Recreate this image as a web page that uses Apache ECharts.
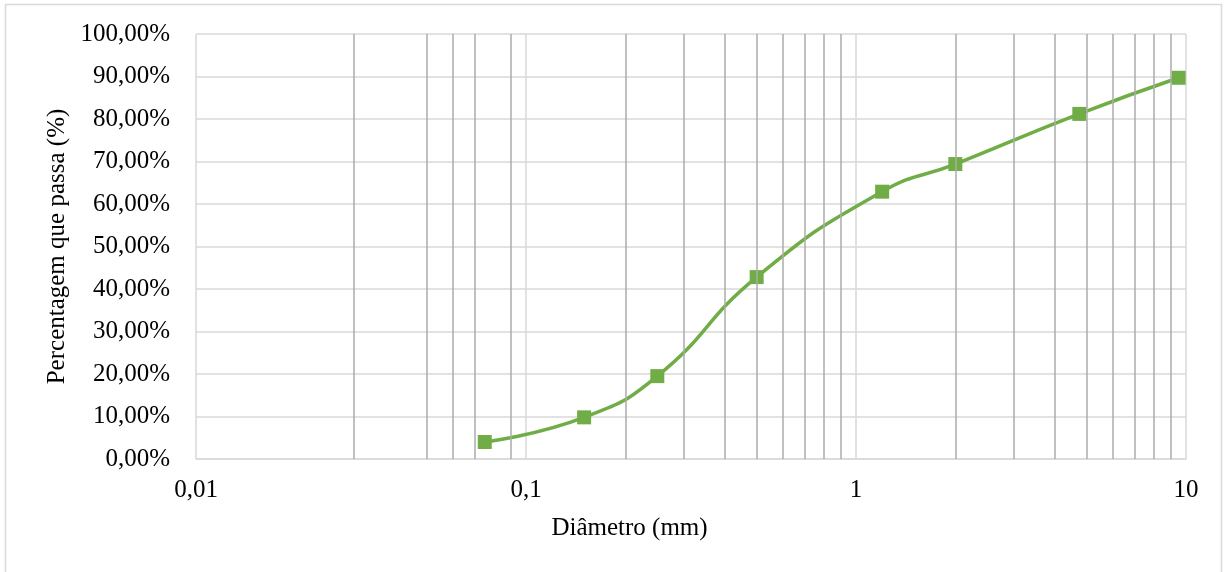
<!DOCTYPE html>
<html>
<head>
<meta charset="utf-8">
<script src="https://cdn.jsdelivr.net/npm/echarts@6/dist/echarts.min.js"></script>
<style>
html,body{margin:0;padding:0;background:#fff;}
#chart{width:1229px;height:572px;}
</style>
</head>
<body>
<div id="chart"></div>
<script>
// Data
const diameters = [0.075, 0.15, 0.25, 0.5, 1.2, 2.0, 4.75, 9.5];        // mm
const passing   = [4.0, 9.8, 19.5, 42.8, 62.9, 69.4, 81.2, 89.7];        // %
const minorGridValues = [0.03, 0.05, 0.06, 0.07, 0.09,
                         0.2, 0.3, 0.4, 0.5, 0.6, 0.7, 0.8, 0.9,
                         2, 3, 4, 5, 6, 7, 8, 9];
const xAxisTitle = 'Diâmetro (mm)';
const yAxisTitle = 'Percentagem que passa (%)';

const FONT = '"Liberation Serif", "Times New Roman", serif';
const seriesData = diameters.map((d, i) => [d, passing[i]]);

const chart = echarts.init(document.getElementById('chart'), null, {renderer: 'canvas'});
chart.setOption({
  animation: false,
  backgroundColor: '#fff',
  graphic: [{
    type: 'rect', silent: true, z: -10,
    shape: {x: 5.5, y: 4.5, width: 1216, height: 600},
    style: {fill: 'none', stroke: '#d9d9d9', lineWidth: 1.5}
  }],
  grid: {left: 196, right: 43, top: 34, bottom: 113, containLabel: false},
  xAxis: {
    type: 'log', logBase: 10, min: 0.01, max: 10,
    name: xAxisTitle, nameLocation: 'middle', nameGap: 57,
    nameTextStyle: {fontFamily: FONT, fontSize: 25, color: '#000', padding: [0, 123, 0, 0]},
    axisLine: {show: true, lineStyle: {color: '#d9d9d9', width: 1.5}},
    axisTick: {show: false},
    axisLabel: {
      fontFamily: FONT, fontSize: 25, color: '#000', margin: 19,
      formatter: v => String(Number(v.toPrecision(6))).replace('.', ',')
    },
    splitLine: {show: true, lineStyle: {color: '#d9d9d9', width: 1.5}},
    minorSplitLine: {show: false}
  },
  yAxis: {
    type: 'value', min: 0, max: 100, interval: 10,
    name: yAxisTitle, nameLocation: 'middle', nameGap: 106, nameRotate: 90,
    nameTextStyle: {fontFamily: FONT, fontSize: 25, color: '#000'},
    axisLine: {show: false},
    axisTick: {show: false},
    axisLabel: {
      fontFamily: FONT, fontSize: 25, color: '#000', margin: 26,
      formatter: v => v.toFixed(2).replace('.', ',') + '%'
    },
    splitLine: {show: true, lineStyle: {color: '#d9d9d9', width: 1.5}}
  },
  series: [{
    type: 'line', data: [], z: 1, silent: true,
    markLine: {
      silent: true, symbol: ['none', 'none'], animation: false,
      label: {show: false},
      lineStyle: {type: 'solid', color: '#ababab', width: 1.5},
      emphasis: {disabled: true},
      data: minorGridValues.map(v => ({xAxis: v}))
    }
  }, {
    type: 'line', data: seriesData, z: 3,
    smooth: 0.5,
    symbol: 'rect', symbolSize: 14,
    lineStyle: {color: '#70ad47', width: 3.5},
    itemStyle: {color: '#70ad47'}
  }]
});
</script>
</body>
</html>
